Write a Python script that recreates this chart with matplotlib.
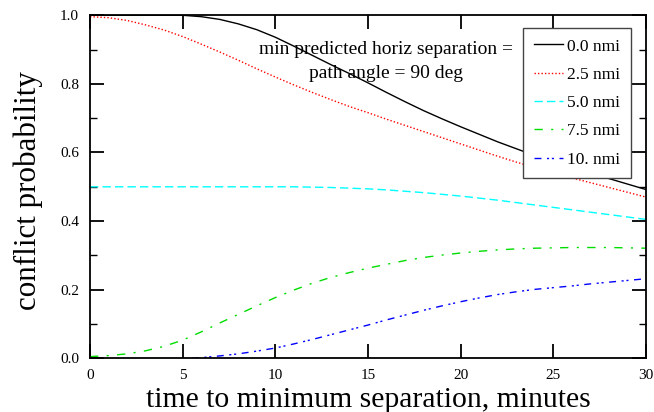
import numpy as np
import matplotlib
matplotlib.use("Agg")
import matplotlib.pyplot as plt
from matplotlib.ticker import MultipleLocator, FormatStrFormatter

plt.rcParams['font.family'] = ['Liberation Serif', 'DejaVu Serif']

# tiempos (minutos) y probabilidades
t = list(range(0, 31))
p_00 = [1.0, 1.0, 1.0, 1.0, 1.0, 1.0, 0.996, 0.988, 0.975, 0.958, 0.936,
        0.91, 0.883, 0.856, 0.83, 0.803, 0.775, 0.748, 0.722, 0.698, 0.675,
        0.653, 0.631, 0.611, 0.591, 0.573, 0.556, 0.54, 0.524, 0.508, 0.492]
p_25 = [0.996, 0.993, 0.985, 0.972, 0.957, 0.938, 0.916, 0.893, 0.869, 0.844, 0.82,
        0.797, 0.775, 0.754, 0.734, 0.716, 0.697, 0.679, 0.661, 0.643, 0.625,
        0.607, 0.589, 0.572, 0.556, 0.54, 0.526, 0.512, 0.498, 0.484, 0.47]
p_50 = [0.5, 0.5, 0.5, 0.5, 0.5, 0.5, 0.5, 0.5, 0.5, 0.5, 0.5,
        0.5, 0.499, 0.498, 0.496, 0.494, 0.491, 0.487, 0.483, 0.478, 0.473,
        0.467, 0.461, 0.454, 0.447, 0.44, 0.433, 0.426, 0.419, 0.412, 0.405]
p_75 = [0.005, 0.008, 0.013, 0.022, 0.035, 0.053, 0.077, 0.103, 0.128, 0.153, 0.177,
        0.199, 0.219, 0.236, 0.25, 0.263, 0.274, 0.285, 0.294, 0.301, 0.307,
        0.312, 0.316, 0.319, 0.321, 0.322, 0.323, 0.323, 0.323, 0.322, 0.321]
t_10 = [5.5] + list(range(6, 31))
p_10 = [0.0, 0.002, 0.007, 0.013, 0.021, 0.03,
        0.042, 0.055, 0.069, 0.083, 0.097, 0.112, 0.126, 0.14, 0.153, 0.165,
        0.176, 0.186, 0.194, 0.201, 0.206, 0.211, 0.217, 0.222, 0.227, 0.232]

etiquetas = ['0.0 nmi', '2.5 nmi', '5.0 nmi', '7.5 nmi', '10. nmi']

fig = plt.figure(figsize=(6.54, 4.12), dpi=100)
ax = fig.add_axes([0.1376, 0.1303, 0.8502, 0.8326])

ax.plot(t, p_00, color='black', lw=1.0, ls='-', label=etiquetas[0])
ax.plot(t, p_25, color='red', lw=1.0, ls=(0, (1, 1.5)), label=etiquetas[1])
ax.plot(t, p_50, color='cyan', lw=1.0, ls=(0, (6, 3)), label=etiquetas[2])
ax.plot(t, p_75, color='#00dd00', lw=1.0, ls=(0, (6, 6, 1.5, 6)), label=etiquetas[3])
ax.plot(t_10, p_10, color='blue', lw=1.0, ls=(0, (5, 4, 1.5, 2, 1.5, 4)), label=etiquetas[4])

ax.set_xlim(0, 30)
ax.set_ylim(0, 1.0)
ax.xaxis.set_major_locator(MultipleLocator(5))
ax.yaxis.set_major_locator(MultipleLocator(0.2))
ax.yaxis.set_minor_locator(MultipleLocator(0.1))
ax.yaxis.set_major_formatter(FormatStrFormatter('%.1f'))
ax.tick_params(which='both', direction='in', top=True, right=True, labelsize=11)
ax.tick_params(which='major', length=10, width=1.3)
ax.tick_params(which='minor', length=5, width=1.0)
ax.tick_params(axis='x', pad=8)
ax.tick_params(axis='y', pad=8)
for s in ax.spines.values():
    s.set_linewidth(1.3)

ax.set_xlabel('time to minimum separation, minutes', fontsize=21.3, labelpad=3)
ax.set_ylabel('conflict probability', fontsize=22.4)
ax.yaxis.set_label_coords(-0.085, 0.488)

ax.text(0.532, 0.865, 'min predicted horiz separation =\npath angle = 90 deg',
        transform=ax.transAxes, ha='center', va='center', fontsize=14,
        linespacing=1.6)

leg = ax.legend(loc='upper right', bbox_to_anchor=(0.973, 0.963), borderaxespad=0,
                fontsize=12.5, fancybox=False, framealpha=1, edgecolor='#444444',
                handlelength=1.7, handletextpad=0.25, borderpad=0.6,
                labelspacing=0.7)
leg.get_frame().set_linewidth(1.0)

fig.savefig('out.png', dpi=100)
